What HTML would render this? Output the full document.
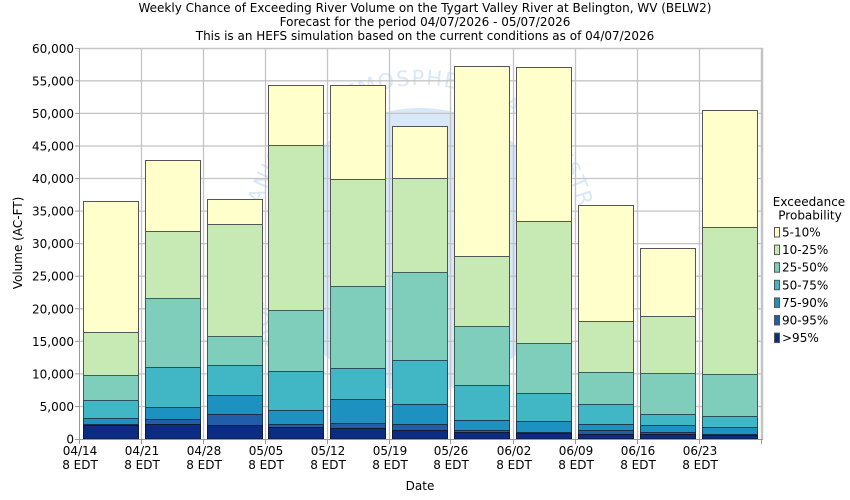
<!DOCTYPE html>
<html><head><meta charset="utf-8"><style>
html,body{margin:0;padding:0;background:#fff;}
svg{display:block;font-family:"DejaVu Sans","Liberation Sans",sans-serif;}
</style></head><body>
<svg width="850" height="500" viewBox="0 0 850 500" xmlns="http://www.w3.org/2000/svg">
<rect x="0" y="0" width="850" height="500" fill="#fff"/>
<g font-size="12" fill="#000" text-anchor="middle">
<text x="425" y="12">Weekly Chance of Exceeding River Volume on the Tygart Valley River at Belington, WV (BELW2)</text>
<text x="425" y="26">Forecast for the period 04/07/2026 - 05/07/2026</text>
<text x="425" y="40">This is an HEFS simulation based on the current conditions as of 04/07/2026</text>
</g>
<!-- watermark -->
<defs><path id="wm" d="M 303.3 366.7 A 165 165 0 1 1 536.7 366.7"/></defs>
<circle cx="420" cy="250" r="142" fill="#d8e8f9"/>
<text font-size="21" fill="#d8e8f9" letter-spacing="1.5"><textPath href="#wm">NATIONAL OCEANIC AND ATMOSPHERIC ADMINISTRATION</textPath></text>
<!-- gridlines -->
<g stroke="#c4c4c4" stroke-width="1.3" fill="none">
<line x1="79" y1="406.5" x2="762" y2="406.5"/>
<line x1="79" y1="373.9" x2="762" y2="373.9"/>
<line x1="79" y1="341.3" x2="762" y2="341.3"/>
<line x1="79" y1="308.8" x2="762" y2="308.8"/>
<line x1="79" y1="276.2" x2="762" y2="276.2"/>
<line x1="79" y1="243.6" x2="762" y2="243.6"/>
<line x1="79" y1="211.1" x2="762" y2="211.1"/>
<line x1="79" y1="178.5" x2="762" y2="178.5"/>
<line x1="79" y1="146" x2="762" y2="146"/>
<line x1="79" y1="113.4" x2="762" y2="113.4"/>
<line x1="79" y1="80.8" x2="762" y2="80.8"/>
<line x1="141.5" y1="48" x2="141.5" y2="439"/>
<line x1="203.5" y1="48" x2="203.5" y2="439"/>
<line x1="265.5" y1="48" x2="265.5" y2="439"/>
<line x1="327.5" y1="48" x2="327.5" y2="439"/>
<line x1="389.5" y1="48" x2="389.5" y2="439"/>
<line x1="450.5" y1="48" x2="450.5" y2="439"/>
<line x1="513.5" y1="48" x2="513.5" y2="439"/>
<line x1="575.5" y1="48" x2="575.5" y2="439"/>
<line x1="637.5" y1="48" x2="637.5" y2="439"/>
<line x1="699.5" y1="48" x2="699.5" y2="439"/>
</g>
<line x1="79" y1="48.5" x2="763" y2="48.5" stroke="#c4c4c4" stroke-width="1.5"/>
<line x1="762" y1="48" x2="762" y2="440" stroke="#c4c4c4" stroke-width="2.5"/>
<!-- bars -->
<g stroke="#555" stroke-width="1">
<g fill="#ffffcc">
<rect x="83.5" y="201.5" width="55" height="237.5"/>
<rect x="145.5" y="160.5" width="55" height="278.5"/>
<rect x="207.5" y="199.5" width="55" height="239.5"/>
<rect x="268.5" y="85.5" width="55" height="353.5"/>
<rect x="330.5" y="85.5" width="55" height="353.5"/>
<rect x="392.5" y="126.5" width="55" height="312.5"/>
<rect x="454.5" y="66.5" width="55" height="372.5"/>
<rect x="516.5" y="67.5" width="55" height="371.5"/>
<rect x="578.5" y="205.5" width="55" height="233.5"/>
<rect x="640.5" y="248.5" width="55" height="190.5"/>
<rect x="702.5" y="110.5" width="55" height="328.5"/>
</g>
<g fill="#c7e9b4">
<rect x="83.5" y="332.5" width="55" height="106.5"/>
<rect x="145.5" y="231.5" width="55" height="207.5"/>
<rect x="207.5" y="224.5" width="55" height="214.5"/>
<rect x="268.5" y="145.5" width="55" height="293.5"/>
<rect x="330.5" y="179.5" width="55" height="259.5"/>
<rect x="392.5" y="178.5" width="55" height="260.5"/>
<rect x="454.5" y="256.5" width="55" height="182.5"/>
<rect x="516.5" y="221.5" width="55" height="217.5"/>
<rect x="578.5" y="321.5" width="55" height="117.5"/>
<rect x="640.5" y="316.5" width="55" height="122.5"/>
<rect x="702.5" y="227.5" width="55" height="211.5"/>
</g>
<g fill="#7fcdbb" stroke="#3d5f5a">
<rect x="83.5" y="375.5" width="55" height="63.5"/>
<rect x="145.5" y="298.5" width="55" height="140.5"/>
<rect x="207.5" y="336.5" width="55" height="102.5"/>
<rect x="268.5" y="310.5" width="55" height="128.5"/>
<rect x="330.5" y="286.5" width="55" height="152.5"/>
<rect x="392.5" y="272.5" width="55" height="166.5"/>
<rect x="454.5" y="326.5" width="55" height="112.5"/>
<rect x="516.5" y="343.5" width="55" height="95.5"/>
<rect x="578.5" y="372.5" width="55" height="66.5"/>
<rect x="640.5" y="373.5" width="55" height="65.5"/>
<rect x="702.5" y="374.5" width="55" height="64.5"/>
</g>
<g fill="#41b6c4" stroke="#2a4f58">
<rect x="83.5" y="400.5" width="55" height="38.5"/>
<rect x="145.5" y="367.5" width="55" height="71.5"/>
<rect x="207.5" y="365.5" width="55" height="73.5"/>
<rect x="268.5" y="371.5" width="55" height="67.5"/>
<rect x="330.5" y="368.5" width="55" height="70.5"/>
<rect x="392.5" y="360.5" width="55" height="78.5"/>
<rect x="454.5" y="385.5" width="55" height="53.5"/>
<rect x="516.5" y="393.5" width="55" height="45.5"/>
<rect x="578.5" y="404.5" width="55" height="34.5"/>
<rect x="640.5" y="414.5" width="55" height="24.5"/>
<rect x="702.5" y="416.5" width="55" height="22.5"/>
</g>
<g fill="#1d91c0" stroke="#1d3d55">
<rect x="83.5" y="418.5" width="55" height="20.5"/>
<rect x="145.5" y="407.5" width="55" height="31.5"/>
<rect x="207.5" y="395.5" width="55" height="43.5"/>
<rect x="268.5" y="410.5" width="55" height="28.5"/>
<rect x="330.5" y="399.5" width="55" height="39.5"/>
<rect x="392.5" y="404.5" width="55" height="34.5"/>
<rect x="454.5" y="420.5" width="55" height="18.5"/>
<rect x="516.5" y="421.5" width="55" height="17.5"/>
<rect x="578.5" y="424.5" width="55" height="14.5"/>
<rect x="640.5" y="425.5" width="55" height="13.5"/>
<rect x="702.5" y="427.5" width="55" height="11.5"/>
</g>
<g fill="#225ea8" stroke="#1a2f4a">
<rect x="83.5" y="424.5" width="55" height="14.5"/>
<rect x="145.5" y="419.5" width="55" height="19.5"/>
<rect x="207.5" y="414.5" width="55" height="24.5"/>
<rect x="268.5" y="424.5" width="55" height="14.5"/>
<rect x="330.5" y="423.5" width="55" height="15.5"/>
<rect x="392.5" y="424.5" width="55" height="14.5"/>
<rect x="454.5" y="430.5" width="55" height="8.5"/>
<rect x="516.5" y="432.5" width="55" height="6.5"/>
<rect x="578.5" y="430.5" width="55" height="8.5"/>
<rect x="640.5" y="432.5" width="55" height="6.5"/>
<rect x="702.5" y="434.5" width="55" height="4.5"/>
</g>
<g fill="#0c2c84" stroke="#111a33">
<rect x="83.5" y="425.5" width="55" height="13.5"/>
<rect x="145.5" y="424.5" width="55" height="14.5"/>
<rect x="207.5" y="425.5" width="55" height="13.5"/>
<rect x="268.5" y="427.5" width="55" height="11.5"/>
<rect x="330.5" y="428.5" width="55" height="10.5"/>
<rect x="392.5" y="430.5" width="55" height="8.5"/>
<rect x="454.5" y="432.5" width="55" height="6.5"/>
<rect x="516.5" y="433.5" width="55" height="5.5"/>
<rect x="578.5" y="434.5" width="55" height="4.5"/>
<rect x="640.5" y="434.5" width="55" height="4.5"/>
<rect x="702.5" y="435.5" width="55" height="3.5"/>
</g>
</g>
<!-- axes -->
<line x1="79.5" y1="48" x2="79.5" y2="440" stroke="#999" stroke-width="1"/>
<line x1="79" y1="439.5" x2="763" y2="439.5" stroke="#999" stroke-width="1"/>
<g stroke="#999" stroke-width="1">
<line x1="75" y1="439.5" x2="79" y2="439.5"/>
<line x1="75" y1="406.5" x2="79" y2="406.5"/>
<line x1="75" y1="373.9" x2="79" y2="373.9"/>
<line x1="75" y1="341.3" x2="79" y2="341.3"/>
<line x1="75" y1="308.8" x2="79" y2="308.8"/>
<line x1="75" y1="276.2" x2="79" y2="276.2"/>
<line x1="75" y1="243.6" x2="79" y2="243.6"/>
<line x1="75" y1="211.1" x2="79" y2="211.1"/>
<line x1="75" y1="178.5" x2="79" y2="178.5"/>
<line x1="75" y1="146" x2="79" y2="146"/>
<line x1="75" y1="113.4" x2="79" y2="113.4"/>
<line x1="75" y1="80.8" x2="79" y2="80.8"/>
<line x1="75" y1="48.5" x2="79" y2="48.5"/>
<line x1="79.5" y1="439" x2="79.5" y2="444"/>
<line x1="141.5" y1="439" x2="141.5" y2="444"/>
<line x1="203.5" y1="439" x2="203.5" y2="444"/>
<line x1="265.5" y1="439" x2="265.5" y2="444"/>
<line x1="327.5" y1="439" x2="327.5" y2="444"/>
<line x1="389.5" y1="439" x2="389.5" y2="444"/>
<line x1="450.5" y1="439" x2="450.5" y2="444"/>
<line x1="513.5" y1="439" x2="513.5" y2="444"/>
<line x1="575.5" y1="439" x2="575.5" y2="444"/>
<line x1="637.5" y1="439" x2="637.5" y2="444"/>
<line x1="699.5" y1="439" x2="699.5" y2="444"/>
<line x1="761.5" y1="439" x2="761.5" y2="444"/>
</g>
<g font-size="12" fill="#000" text-anchor="end">
<text x="74" y="443.5">0</text>
<text x="74" y="411">5,000</text>
<text x="74" y="378.4">10,000</text>
<text x="74" y="345.8">15,000</text>
<text x="74" y="313.3">20,000</text>
<text x="74" y="280.7">25,000</text>
<text x="74" y="248.1">30,000</text>
<text x="74" y="215.6">35,000</text>
<text x="74" y="183">40,000</text>
<text x="74" y="150.5">45,000</text>
<text x="74" y="117.9">50,000</text>
<text x="74" y="85.3">55,000</text>
<text x="74" y="53">60,000</text>
</g>
<g font-size="12" fill="#000" text-anchor="middle">
<text x="80" y="455">04/14</text><text x="80" y="469">8 EDT</text>
<text x="142" y="455">04/21</text><text x="142" y="469">8 EDT</text>
<text x="204" y="455">04/28</text><text x="204" y="469">8 EDT</text>
<text x="266" y="455">05/05</text><text x="266" y="469">8 EDT</text>
<text x="328" y="455">05/12</text><text x="328" y="469">8 EDT</text>
<text x="390" y="455">05/19</text><text x="390" y="469">8 EDT</text>
<text x="451" y="455">05/26</text><text x="451" y="469">8 EDT</text>
<text x="514" y="455">06/02</text><text x="514" y="469">8 EDT</text>
<text x="576" y="455">06/09</text><text x="576" y="469">8 EDT</text>
<text x="638" y="455">06/16</text><text x="638" y="469">8 EDT</text>
<text x="700" y="455">06/23</text><text x="700" y="469">8 EDT</text>
<text x="420" y="490">Date</text>
<text transform="translate(22,243) rotate(-90)">Volume (AC-FT)</text>
</g>
<!-- legend -->
<g font-size="12" fill="#000">
<text x="809" y="206" text-anchor="middle">Exceedance</text>
<text x="810" y="219.5" text-anchor="middle">Probability</text>
<g stroke="#555" stroke-width="1">
<rect x="774.5" y="227.5" width="5" height="9.5" fill="#ffffcc"/>
<rect x="774.5" y="245.1" width="5" height="9.5" fill="#c7e9b4"/>
<rect x="774.5" y="262.7" width="5" height="9.5" fill="#7fcdbb"/>
<rect x="774.5" y="280.3" width="5" height="9.5" fill="#41b6c4"/>
<rect x="774.5" y="297.9" width="5" height="9.5" fill="#1d91c0"/>
<rect x="774.5" y="315.5" width="5" height="9.5" fill="#225ea8"/>
<rect x="774.5" y="333.1" width="5" height="9.5" fill="#0c2c84"/>
</g>
<text x="782" y="236.5">5-10%</text>
<text x="782" y="254.1">10-25%</text>
<text x="782" y="271.7">25-50%</text>
<text x="782" y="289.3">50-75%</text>
<text x="782" y="306.9">75-90%</text>
<text x="782" y="324.5">90-95%</text>
<text x="782" y="342.1">&gt;95%</text>
</g>
</svg>
</body></html>
